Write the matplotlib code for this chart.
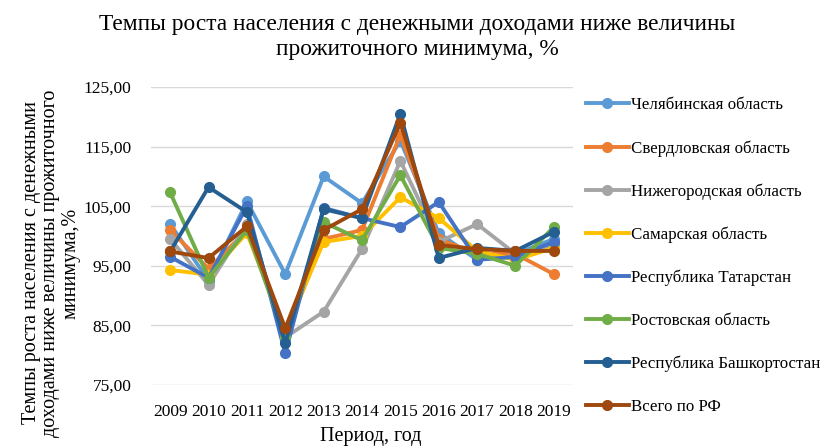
import numpy as np
import matplotlib.pyplot as plt
from matplotlib.ticker import FuncFormatter

plt.rcParams['font.family'] = ['Liberation Serif', 'DejaVu Serif']

years = ['2009', '2010', '2011', '2012', '2013', '2014', '2015', '2016', '2017', '2018', '2019']

chelyab = [102.0, 92.5, 105.8, 93.6, 110.0, 105.5, 116.0, 100.5, 96.0, 97.0, 99.5]
sverdl = [101.0, 94.5, 101.0, 83.5, 99.5, 101.0, 117.0, 99.5, 97.0, 97.0, 93.6]
nizh = [99.5, 91.8, 102.0, 83.0, 87.3, 97.8, 112.6, 99.0, 102.0, 97.0, 98.5]
samara = [94.3, 93.5, 100.5, 84.0, 99.0, 100.0, 106.5, 103.0, 97.5, 96.0, 98.0]
tatar = [96.5, 93.0, 105.0, 80.3, 104.7, 103.0, 101.5, 105.7, 96.0, 96.5, 99.0]
rostov = [107.3, 93.0, 101.0, 83.0, 102.3, 99.3, 110.2, 98.0, 97.0, 95.0, 101.5]
bashk = [97.4, 108.2, 104.0, 82.0, 104.5, 103.0, 120.5, 96.3, 98.0, 97.5, 100.7]
rf = [97.4, 96.3, 101.6, 84.5, 101.0, 104.5, 119.0, 98.5, 97.8, 97.5, 97.5]

series = [
    ('Челябинская область', chelyab, '#5B9BD5'),
    ('Свердловская область', sverdl, '#ED7D31'),
    ('Нижегородская область', nizh, '#A5A5A5'),
    ('Самарская область', samara, '#FFC000'),
    ('Республика Татарстан', tatar, '#4472C4'),
    ('Ростовская область', rostov, '#70AD47'),
    ('Республика Башкортостан', bashk, '#255E91'),
    ('Всего по РФ', rf, '#9E480E'),
]

fig = plt.figure(figsize=(8.3, 4.46), dpi=100)
ax = fig.add_axes([151/830, 1 - 385/446, 422/830, 298/446])

x = np.arange(len(years))
for name, vals, col in series:
    ax.plot(x, vals, '-o', color=col, lw=2.8, ms=7, label=name)

ax.set_xlim(-0.5, len(years) - 0.5)
ax.set_ylim(75, 125)
ax.set_yticks([75, 85, 95, 105, 115, 125])
ax.yaxis.set_major_formatter(FuncFormatter(lambda v, p: '{:.2f}'.format(v).replace('.', ',')))
ax.set_xticks(x)
ax.set_xticklabels(years)
ax.tick_params(axis='y', length=0, labelsize=12.5, pad=14)
ax.tick_params(axis='x', length=0, labelsize=12.5, pad=14)
ax.grid(axis='y', color='#D9D9D9', lw=1)
ax.set_axisbelow(True)
for s in ax.spines.values():
    s.set_visible(False)

fig.text(371/830, 1 - 437/446, 'Период, год', fontsize=14.5, ha='center', va='center')
fig.text(51/830, 1 - 263/446,
         'Темпы роста населения с денежными\nдоходами ниже величины прожиточного\nминимума,%',
         fontsize=14.5, rotation=90, ha='center', va='center', linespacing=1.05,
         multialignment='center')

fig.text(417/830, 1 - 37/446,
         'Темпы роста населения с денежными доходами ниже величины\nпрожиточного минимума, %',
         fontsize=16.8, ha='center', va='center', linespacing=1.25)

fig.legend(loc='upper left', bbox_to_anchor=(571/830, 1 - 82/446), frameon=False,
           fontsize=12.2, labelspacing=1.58, handlelength=2.5, handletextpad=0.12)

fig.savefig('out.png', dpi=100)
